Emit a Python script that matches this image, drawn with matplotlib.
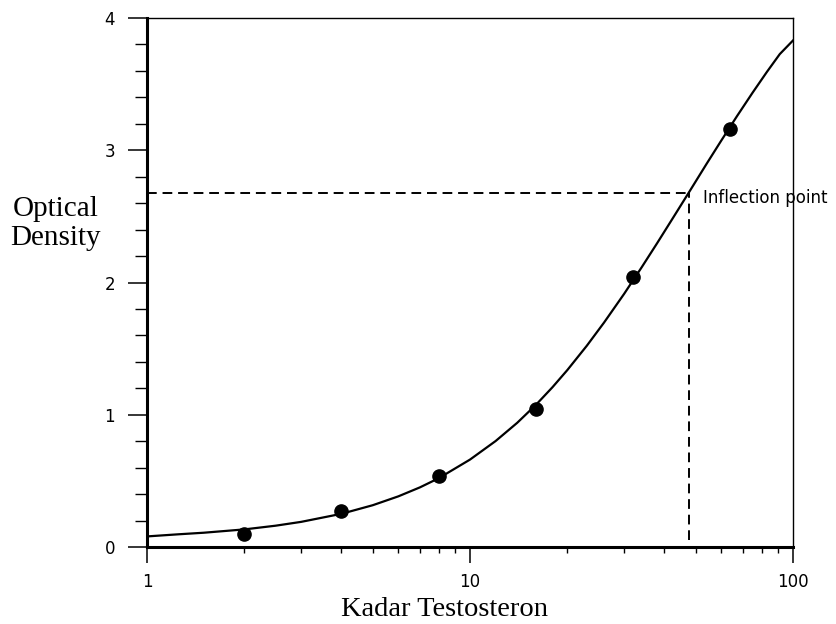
import numpy as np
import matplotlib.pyplot as plt
from matplotlib.ticker import MultipleLocator, NullFormatter

# titik standar
kadar = [2, 4, 8, 16, 32, 64]
od = [0.10, 0.27, 0.54, 1.04, 2.04, 3.16]

# kurva standar
kurva_x = [1, 1.25, 1.5, 2, 2.5, 3, 4, 5, 6, 7, 8, 10, 12, 14, 16, 18, 20, 23,
           26, 30, 34, 38, 43, 48, 54, 60, 67, 75, 83, 91, 100]
kurva_y = [0.08, 0.096, 0.108, 0.133, 0.161, 0.19, 0.251, 0.316, 0.383, 0.451,
           0.52, 0.661, 0.801, 0.939, 1.075, 1.208, 1.337, 1.522, 1.697, 1.914,
           2.115, 2.299, 2.508, 2.695, 2.897, 3.074, 3.256, 3.436, 3.592, 3.727,
           3.83]

infl_x, infl_y = 47.5, 2.68

xticks = [1, 10, 100]
xlabels = ['1', '10', '100']
yticks = [0, 1, 2, 3, 4]

fig = plt.figure(figsize=(8.37, 6.24), dpi=100)
ax = fig.add_axes([147 / 837, 77 / 624, 646 / 837, 529 / 624])

ax.plot(kurva_x, kurva_y, color='black', linewidth=1.6)
ax.plot(kadar, od, 'o', color='black', markersize=9.5)

# garis titik infleksi
ax.plot([1, infl_x], [infl_y, infl_y], color='black', linewidth=1.4, linestyle=(0, (5, 3)))
ax.plot([infl_x, infl_x], [0.05, infl_y], color='black', linewidth=1.4, linestyle=(0, (5, 3)))
ax.text(52.6, 2.60, 'Inflection point', fontsize=12, ha='left', va='baseline')

ax.set_xscale('log')
ax.set_xlim(1, 100)
ax.set_ylim(0, 4)
ax.set_xticks(xticks)
ax.set_xticklabels(xlabels)
ax.xaxis.set_minor_formatter(NullFormatter())
ax.set_yticks(yticks)
ax.yaxis.set_minor_locator(MultipleLocator(0.2))

ax.spines['left'].set_linewidth(2.2)
ax.spines['bottom'].set_linewidth(2.2)
ax.spines['top'].set_linewidth(1.0)
ax.spines['right'].set_linewidth(1.0)

ax.tick_params(axis='y', which='major', direction='out', length=14, width=1.1, pad=9, labelsize=12)
ax.tick_params(axis='y', which='minor', direction='out', length=8.5, width=1.0)
ax.tick_params(axis='x', which='major', direction='out', length=11.5, width=1.1, pad=7, labelsize=12)
ax.tick_params(axis='x', which='minor', direction='out', length=4, width=1.0)

fig.text(445 / 837, 1 - 616 / 624, 'Kadar Testosteron', fontsize=20.5,
         family='Liberation Serif', ha='center', va='baseline')
fig.text(56 / 837, 1 - 216 / 624, 'Optical', fontsize=21,
         family='Liberation Serif', ha='center', va='baseline')
fig.text(56 / 837, 1 - 245 / 624, 'Density', fontsize=21,
         family='Liberation Serif', ha='center', va='baseline')

plt.savefig('out.png', dpi=100)
